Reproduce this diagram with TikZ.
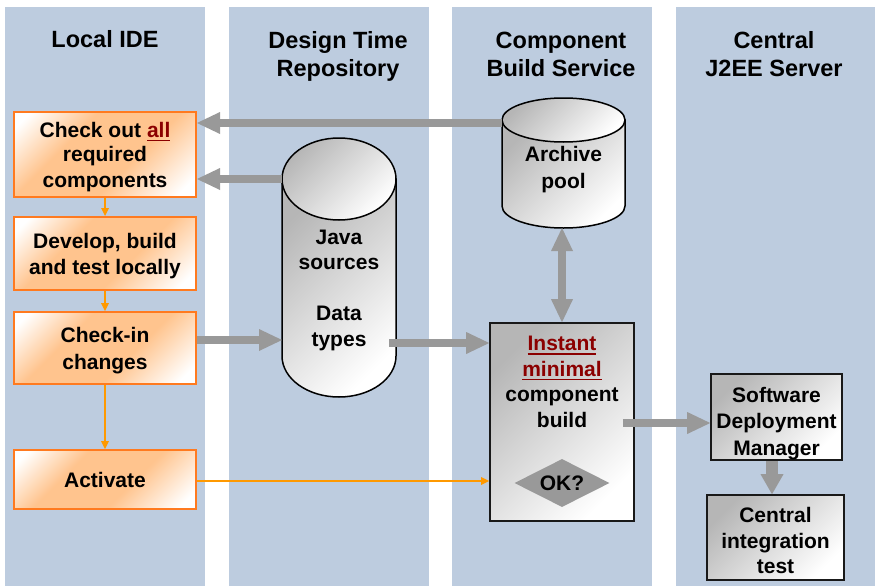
\documentclass[tikz,border=0pt]{standalone}
\usepackage{fontspec}
\setmainfont{Liberation Sans}
\usetikzlibrary{arrows.meta,shapes.geometric}

\definecolor{lanefill}{HTML}{BDCCDF}
\definecolor{flowgray}{HTML}{999999}
\definecolor{flowor}{HTML}{FF9900}
\definecolor{orborder}{HTML}{FF7A1F}
\definecolor{orpeak}{HTML}{FFC48E}
\definecolor{graypeak}{HTML}{B6B6B6}
\definecolor{linkred}{HTML}{8B0000}

% white -> orange -> white band along the diagonal
\pgfdeclarehorizontalshading{orangeband}{100bp}{color(0bp)=(white); color(19bp)=(white); color(37bp)=(orpeak); color(59bp)=(orpeak); color(80bp)=(white); color(100bp)=(white)}
% gray -> white fade for the repository and build shapes
\pgfdeclarehorizontalshading{grayfade}{100bp}{color(0bp)=(graypeak); color(25bp)=(graypeak); color(75bp)=(white); color(100bp)=(white)}

% strut fixing the first line's height and the last line's depth
\newcommand{\ts}{\rule[-5pt]{0pt}{25.5pt}}
% taller opening strut, lowers the text block in its box
\newcommand{\tsh}[1]{\rule[-5pt]{0pt}{#1}}
% dark red underlined word
\newcommand{\redul}[1]{\textcolor{linkred}{\setbox0=\hbox{#1}\rlap{\rule[-4pt]{\wd0}{1.8pt}}\box0}}

\begin{document}
\begin{tikzpicture}[x=1pt,y=-1pt,
  lbl/.style={font=\fontsize{21}{24}\selectfont\bfseries, align=center, inner sep=0pt},
  lblg/.style={lbl, font=\fontsize{21}{25.4}\selectfont\bfseries},
  ttl/.style={font=\fontsize{23.5}{28}\selectfont\bfseries, align=center, inner sep=0pt, anchor=north},
  obox/.style={lbl, draw=orborder, line width=2pt, shading=orangeband, shading angle=-45, minimum width=182pt},
  gbox/.style={lblg, draw=black!90, line width=1.6pt, shading=grayfade, shading angle=-45},
  cylframe/.style={inner sep=0pt, outer sep=0pt},
  cylbody/.style={draw=black, line width=1.5pt, shading=grayfade, shading angle=-45},
  garrow/.style={draw=flowgray, line width=8pt, -{Triangle[length=23pt,width=22pt,line width=0pt]}},
  oarrow/.style={draw=flowor, line width=2pt, -{Triangle[length=8pt,width=8pt,line width=0pt]}},
]
\useasboundingbox (0,0) rectangle (877,586);

% swim lanes
\fill[lanefill] (5,7) rectangle (205,586);
\fill[lanefill] (229,7) rectangle (429,586);
\fill[lanefill] (452,7) rectangle (652,586);
\fill[lanefill] (676,7) rectangle (875,586);

% lane titles
\node[ttl] (tide) at (105,27) {\rule{0pt}{20pt}Local IDE};
\node[ttl] (tdtr) at (338,28) {\rule{0pt}{20pt}Design Time\\Repository};
\node[ttl] (tcbs) at (561,28) {\rule{0pt}{20pt}Component\\Build Service};
\node[ttl] (tj2ee) at (774,28) {\rule{0pt}{20pt}Central\\J2EE Server};

% local IDE steps
\node[obox, minimum height=85pt] (co) at (105,154.5) {\ts Check out \redul{all}\\required\\components\ts};
\node[obox, minimum height=73pt] (dev) at (105,253.5) {\ts Develop, build\\and test locally\ts};
\node[obox, minimum height=72pt] (ci) at (105,348) {\ts Check-in\\changes\ts};
\node[obox, minimum height=59pt] (act) at (105,479.5) {\ts Activate\ts};

% design time repository: Java sources cylinder
\shadedraw[cylbody] (282,179) -- (282,356) arc[start angle=180,end angle=360,x radius=57pt,y radius=41pt] -- (396,179) -- cycle;
\shadedraw[cylbody] (339,179) ellipse[x radius=57pt,y radius=41pt];
\node[cylframe, minimum width=114pt, minimum height=260pt] (java) at (339,267) {};
\node[lblg] (javatxt) at (339,287.6) {\ts Java\\sources\\[25.4pt]Data\\types\ts};

% component build service: archive pool cylinder
\shadedraw[cylbody] (502,120) -- (502,206) arc[start angle=180,end angle=360,x radius=61.5pt,y radius=22pt] -- (625,120) -- cycle;
\shadedraw[cylbody] (563.5,120) ellipse[x radius=61.5pt,y radius=22pt];
\node[cylframe, minimum width=123pt, minimum height=130pt] (arch) at (563.5,163) {};
\node[lbl] (archtxt) at (563.5,167) {\ts Archive\\pool\ts};

% instant minimal build
\node[gbox, minimum width=144pt, minimum height=198pt] (inst) at (562,422) {};
\node[lblg] (insttxt) at (562,381.25) {\ts\redul{Instant}\\\redul{minimal}\\component\\build\ts};
\node[diamond, aspect=2, fill=flowgray, minimum width=95pt, minimum height=48pt, inner sep=0pt, font=\fontsize{21}{24}\selectfont\bfseries] (ok) at (562,483) {OK?};

% central J2EE server
\node[gbox, minimum width=131pt, minimum height=84pt, font=\fontsize{21}{26.5}\selectfont\bfseries] (sdm) at (776.5,417) {\tsh{33.5pt}Software\\Deployment\\Manager\ts};
\node[gbox, minimum width=137pt, minimum height=85pt] (cit) at (775.5,537.5) {\tsh{31.5pt}Central\\integration\\test\ts};

% gray flows
\draw[garrow] (arch.west |- 0,123) -- (co.east |- 0,123);
\draw[garrow] (java.west |- 0,179) -- (co.east |- 0,179);
\draw[garrow] (ci.east |- 0,340) -- (java.west |- 0,340);
\draw[garrow, shorten <=-7pt] (java.east |- 0,343) -- (inst.west |- 0,343);
\draw[garrow, {Triangle[length=23pt,width=22pt,line width=0pt]}-{Triangle[length=23pt,width=22pt,line width=0pt]}] (inst.north |- arch.south) -- (inst.north);
\draw[garrow, shorten <=-12pt] (inst.east |- 0,423) -- (sdm.west |- 0,423);
\draw[garrow, line width=12pt, -{Triangle[length=20pt,width=23pt,line width=0pt]}] (sdm.south -| 772,0) -- (cit.north -| 772,0);

% orange flows
\draw[oarrow] (co.south) -- (dev.north);
\draw[oarrow] (dev.south) -- (ci.north);
\draw[oarrow] (ci.south) -- (act.north);
\draw[oarrow] (act.east |- 0,481) -- (inst.west |- 0,481);
\end{tikzpicture}
\end{document}
